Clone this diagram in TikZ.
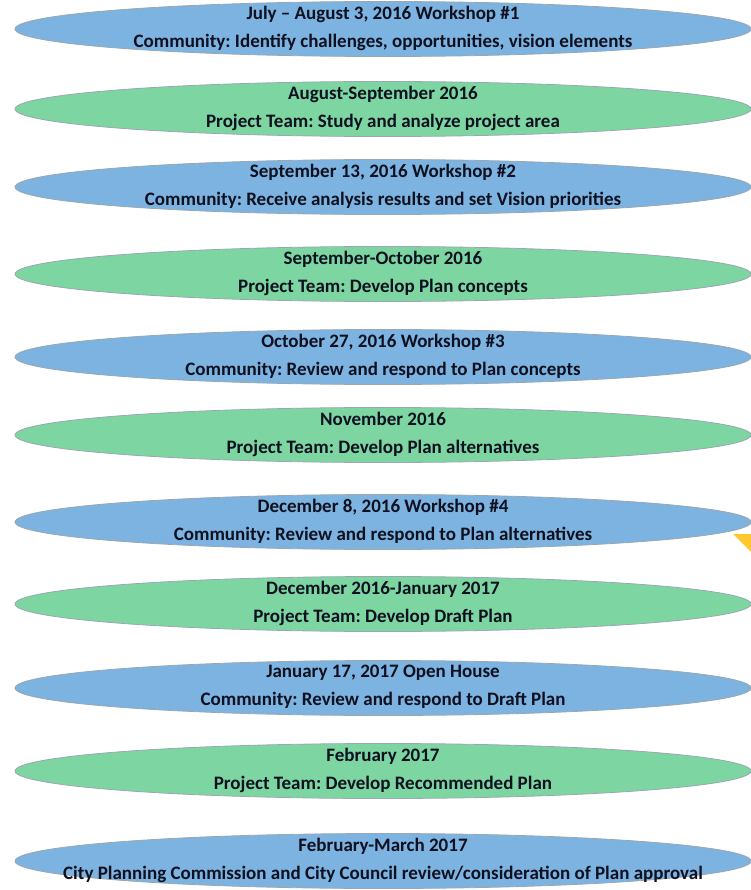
\documentclass[tikz,border=0pt]{standalone}
\usetikzlibrary{shapes.geometric}
\usepackage{fontspec}
\setmainfont{Carlito}
\definecolor{cblue}{HTML}{7DB3E0}
\definecolor{cgreen}{HTML}{7DD6A2}
\definecolor{cedge}{HTML}{9AA7B0}
\definecolor{ctext}{HTML}{0F1020}
\definecolor{cyel}{HTML}{FFC82E}
\frenchspacing
\begin{document}
\begin{tikzpicture}[x=1pt,y=-1pt,
  stage/.style={ellipse,draw=cedge,line width=0.8pt,minimum width=736pt,minimum height=55pt,inner sep=0pt},
  comm/.style={stage,fill=cblue},
  team/.style={stage,fill=cgreen},
  lbl/.style={align=center,font=\bfseries\fontsize{19}{28}\selectfont,text=ctext}]
\useasboundingbox (0,0) rectangle (751,890);
\fill[cyel] (733,534) -- (751,534) -- (751,552) -- cycle;
\foreach \y/\s/\a/\b in {
 29/comm/{July – August 3, 2016 Workshop \#1}/{Community: Identify challenges, opportunities, vision elements},
 109/team/{August-September 2016}/{Project Team: Study and analyze project area},
 187/comm/{September 13, 2016 Workshop \#2}/{Community: Receive analysis results and set Vision priorities},
 274/team/{September-October 2016}/{Project Team: Develop Plan concepts},
 357/comm/{October 27, 2016 Workshop \#3}/{Community: Review and respond to Plan concepts},
 435/team/{November 2016}/{Project Team: Develop Plan alternatives},
 522/comm/{December 8, 2016 Workshop \#4}/{Community: Review and respond to Plan alternatives},
 604/team/{December 2016-January 2017}/{Project Team: Develop Draft Plan},
 688/comm/{January 17, 2017 Open House}/{Community: Review and respond to Draft Plan},
 771/team/{February 2017}/{Project Team: Develop Recommended Plan},
 861/comm/{February-March 2017}/{City Planning Commission and City Council review/consideration of Plan approval}}
{
 \node[\s] (e\y) at (383,\y) {};
 \node[lbl] (t\y) at (383,\y-1) {\a\\\b};
}
\end{tikzpicture}
\end{document}
